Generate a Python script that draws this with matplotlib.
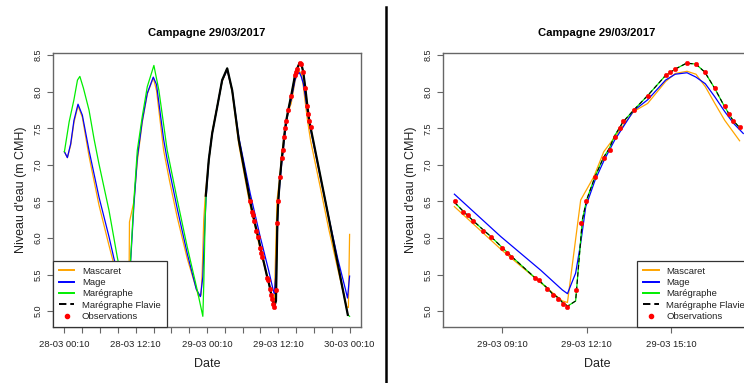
import numpy as np
import matplotlib
matplotlib.use('Agg')
import matplotlib.pyplot as plt
from matplotlib.lines import Line2D

plt.rcParams['font.family'] = ['Liberation Sans', 'DejaVu Sans']

# times are hours counted from 28-03 00:10, water levels in m CMH
mascaret_t = [0, 0.5, 1.06, 1.61, 2.29, 3.02, 4.14, 5.82, 7.5, 8.2, 9.5, 10.5, 10.85, 10.95,
              11.7, 12.27, 13.1, 13.95, 14.96, 15.5, 16.7, 17.7, 19.0, 20.67, 22.6, 23.0, 23.2,
              23.45, 23.75, 24.3, 24.87, 25.71, 26.55, 27.4, 28.24, 29.35, 31.0, 31.30, 33.0,
              35.14, 35.32, 35.79, 36.26, 36.61, 37.0, 37.67, 38.17, 38.81, 39.15, 39.57, 39.89,
              40.22, 40.56, 40.91, 41.44, 43.0, 44.5, 46.0, 47.5, 47.8, 48.0]
mascaret_z = [7.18, 7.10, 7.27, 7.58, 7.81, 7.65, 7.12, 6.45, 5.90, 5.68, 5.30, 5.10, 5.12, 6.22,
              6.50, 7.05, 7.58, 7.97, 8.19, 8.02, 7.20, 6.78, 6.28, 5.72, 5.20, 5.22, 5.55,
              6.25, 6.62, 7.05, 7.45, 7.80, 8.14, 8.30, 8.00, 7.28, 6.55, 6.43, 5.83,
              5.14, 5.12, 6.52, 6.84, 7.18, 7.38, 7.73, 7.84, 8.14, 8.25, 8.28, 8.24,
              8.07, 7.84, 7.61, 7.33, 6.72, 6.12, 5.58, 5.06, 5.05, 6.05]

mage_t = [0, 0.5, 1.06, 1.61, 2.29, 3.02, 4.14, 5.82, 7.5, 8.34, 9.5, 10.3, 10.85, 11.16, 11.7,
          12.27, 13.1, 13.95, 14.96, 15.5, 16.7, 17.3, 19.0, 20.67, 22.2, 22.9, 23.3, 23.6, 23.85,
          24.3, 24.87, 25.71, 26.55, 27.4, 28.24, 29.35, 31.0, 31.30, 32.95, 34.37, 35.14, 35.32,
          35.61, 35.79, 35.97, 36.3, 36.63, 37.0, 37.67, 38.17, 38.81, 39.15, 39.57, 39.89, 40.22,
          40.56, 40.91, 41.22, 41.57, 43.0, 44.5, 46.0, 47.3, 47.65, 48.0]
mage_z = [7.18, 7.10, 7.29, 7.61, 7.83, 7.68, 7.20, 6.56, 6.02, 5.72, 5.35, 5.15, 5.18, 5.70, 6.45,
          7.10, 7.60, 7.98, 8.20, 8.10, 7.35, 7.07, 6.40, 5.79, 5.30, 5.20, 5.47, 6.10, 6.55,
          7.07, 7.43, 7.79, 8.15, 8.30, 8.02, 7.38, 6.72, 6.60, 6.02, 5.56, 5.29, 5.24,
          5.52, 5.93, 6.43, 6.79, 7.07, 7.34, 7.74, 7.89, 8.16, 8.24, 8.26, 8.20, 8.11,
          7.93, 7.73, 7.57, 7.43, 6.86, 6.28, 5.72, 5.30, 5.18, 5.48]

maregraphe_t = [0, 0.8, 1.6, 2.2, 2.6, 3.2, 4.14, 5.0, 5.8, 7.5, 8.9, 10.0, 10.75, 11.13, 11.7,
                12.27, 13.1, 13.95, 15.06, 15.9, 17.3, 19.0, 20.67, 22.35, 23.3, 23.46, 23.7, 23.85,
                24.3, 24.87, 25.71, 26.55, 27.4, 28.24, 29.35, 31.0, 31.30, 31.63, 31.96, 32.33,
                32.60, 33.0, 33.3, 34.13, 34.31, 34.62, 34.78, 35.0, 35.14, 35.33, 35.61, 35.85,
                36.0, 36.3, 36.6, 36.8, 37.0, 37.3, 37.7, 38.2, 38.8, 39.15, 39.55, 39.88, 40.2,
                40.55, 40.9, 41.2, 41.44, 43.0, 44.5, 46.0, 47.7, 48.0]
maregraphe_z = [7.18, 7.59, 7.89, 8.16, 8.21, 8.05, 7.75, 7.35, 7.02, 6.38, 5.74, 5.30, 5.00, 5.70, 6.52,
                7.20, 7.66, 8.07, 8.36, 8.02, 7.20, 6.52, 5.88, 5.29, 4.93, 5.38, 6.30, 6.60,
                7.07, 7.43, 7.79, 8.16, 8.32, 8.02, 7.34, 6.62, 6.49, 6.36, 6.24, 6.11,
                6.02, 5.87, 5.76, 5.47, 5.42, 5.31, 5.24, 5.18, 5.12, 5.07, 5.14, 6.25,
                6.52, 6.84, 7.10, 7.22, 7.40, 7.59, 7.76, 7.96, 8.22, 8.31, 8.39, 8.38, 8.27,
                8.05, 7.80, 7.61, 7.51, 6.88, 6.27, 5.65, 4.95, 4.93]

flavie_t = [23.8, 24.3, 24.87, 25.71, 26.55, 27.4, 28.24, 29.35, 31.0, 31.30, 31.63, 31.96, 32.33,
            32.60, 33.0, 33.3, 34.13, 34.31, 34.62, 34.78, 35.0, 35.14, 35.33, 35.61, 35.85,
            36.0, 36.3, 36.6, 36.8, 37.0, 37.3, 37.7, 38.2, 38.8, 39.15, 39.55, 39.88, 40.2,
            40.55, 40.9, 41.2, 41.44, 43.0, 44.5, 46.0, 47.7]
flavie_z = [6.58, 7.07, 7.43, 7.79, 8.16, 8.32, 8.02, 7.34, 6.62, 6.49, 6.36, 6.24, 6.11,
            6.02, 5.87, 5.76, 5.47, 5.42, 5.31, 5.24, 5.18, 5.12, 5.07, 5.14, 6.25,
            6.52, 6.84, 7.10, 7.22, 7.40, 7.59, 7.76, 7.96, 8.22, 8.31, 8.39, 8.38, 8.27,
            8.05, 7.80, 7.61, 7.51, 6.88, 6.27, 5.65, 4.95]

obs_t = [31.32, 31.62, 31.80, 31.96, 32.33, 32.60, 32.98, 33.17, 33.31, 34.16, 34.32, 34.61,
         34.80, 35.00, 35.15, 35.32, 35.64, 35.81, 35.97, 36.29, 36.63, 36.83, 37.00, 37.17,
         37.30, 37.67, 38.17, 38.81, 38.98, 39.15, 39.57, 39.89, 40.22, 40.56, 40.91, 41.07,
         41.22, 41.45]
obs_z = [6.50, 6.36, 6.31, 6.24, 6.10, 6.02, 5.86, 5.80, 5.74, 5.46, 5.42, 5.30,
         5.22, 5.17, 5.10, 5.06, 5.29, 6.20, 6.51, 6.83, 7.10, 7.21, 7.38, 7.51,
         7.60, 7.75, 7.94, 8.23, 8.27, 8.31, 8.39, 8.38, 8.27, 8.05, 7.81, 7.70,
         7.60, 7.52]

# window of the campaign (right panel)
window = (31.30, 41.60)

left_ticks = [0, 12, 24, 36, 48]
left_labels = ['28-03 00:10', '28-03 12:10', '29-03 00:10', '29-03 12:10', '30-03 00:10']
right_ticks = [33, 36, 39]
right_labels = ['29-03 09:10', '29-03 12:10', '29-03 15:10']
y_ticks = [5.0, 5.5, 6.0, 6.5, 7.0, 7.5, 8.0, 8.5]

W, H = 744, 383
fig = plt.figure(figsize=(W / 100, H / 100), dpi=100)
fig.patch.set_facecolor('white')

ax_full = fig.add_axes([53 / W, (H - 327.3) / H, 308 / W, 274.3 / H])
ax_zoom = fig.add_axes([443 / W, (H - 327.3) / H, 308 / W, 274.3 / H])


def cut(t, z, lim):
    t = np.asarray(t)
    z = np.asarray(z)
    if lim is None:
        return t, z
    m = (t >= lim[0]) & (t <= lim[1])
    return t[m], z[m]


def draw(ax, lim, flavie_style, loc, anchor):
    ax.plot(*cut(mascaret_t, mascaret_z, lim), color='orange', lw=0.9)
    ax.plot(*cut(mage_t, mage_z, lim), color='blue', lw=0.9)
    ax.plot(*cut(maregraphe_t, maregraphe_z, lim), color='#00ee00', lw=0.9)
    ax.plot(*cut(flavie_t, flavie_z, lim), color='black', **flavie_style)
    ax.plot(obs_t, obs_z, ls='none', marker='o', ms=3.3, mfc='red', mec='red', mew=0.3)

    ax.set_ylim(4.78, 8.53)
    ax.set_yticks(y_ticks)
    ax.set_yticklabels(['%.1f' % v for v in y_ticks])
    ax.tick_params(axis='both', direction='out', length=4.3, width=0.8, color='#666666',
                   labelsize=6.8, labelcolor='#222222')
    ax.tick_params(axis='y', labelrotation=90, labelsize=6.5, pad=3)
    ax.tick_params(axis='x', pad=5)
    for lab in ax.get_yticklabels():
        lab.set_va('center')
    for s in ax.spines.values():
        s.set_color('#666666')
        s.set_linewidth(1.0)

    ax.set_title('Campagne 29/03/2017', fontsize=8.1, fontweight='bold', pad=12.5)
    ax.set_xlabel('Date', fontsize=9, color='#222222', labelpad=6)
    ax.set_ylabel("Niveau d'eau (m CMH)", fontsize=9, color='#222222', labelpad=5)

    handles = [Line2D([], [], color='orange', lw=1.4),
               Line2D([], [], color='blue', lw=1.4),
               Line2D([], [], color='#00ee00', lw=1.4),
               Line2D([], [], color='black', lw=1.4, dashes=(3.8, 2.0)),
               Line2D([], [], ls='none', marker='o', ms=3, mfc='red', mec='red')]
    names = ['Mascaret', 'Mage', 'Marégraphe', 'Marégraphe Flavie', 'Observations']
    leg = ax.legend(handles, names, loc=loc, bbox_to_anchor=anchor, borderaxespad=0,
                    fontsize=6.8, frameon=True, fancybox=False, framealpha=1,
                    handlelength=1.6, handletextpad=0.8, labelspacing=0.25, borderpad=0.65)
    leg.get_frame().set_edgecolor('#333333')
    leg.get_frame().set_linewidth(0.9)
    for t in leg.get_texts():
        t.set_color('#222222')


draw(ax_full, None, dict(lw=1.6), 'lower left', (0, 0))
ax_full.set_xlim(-1.92, 49.92)
ax_full.set_xticks(left_ticks)
ax_full.set_xticklabels(left_labels)
ax_full.set_xticks(np.arange(0, 49, 3), minor=True)
ax_full.tick_params(axis='x', which='minor', direction='out', length=4.3, width=0.8, color='#666666')

draw(ax_zoom, window, dict(lw=0.8, dashes=(4.0, 2.5)), 'lower right', (1, 0))
ax_zoom.set_xlim(30.895, 41.845)
ax_zoom.set_xticks(right_ticks)
ax_zoom.set_xticklabels(right_labels)

# vertical rule between the two panels
fig.add_artist(Line2D([386 / W, 386 / W], [0, 1 - 7 / H], color='black', lw=1.8,
                      transform=fig.transFigure))

fig.savefig('out.png', dpi=100)
